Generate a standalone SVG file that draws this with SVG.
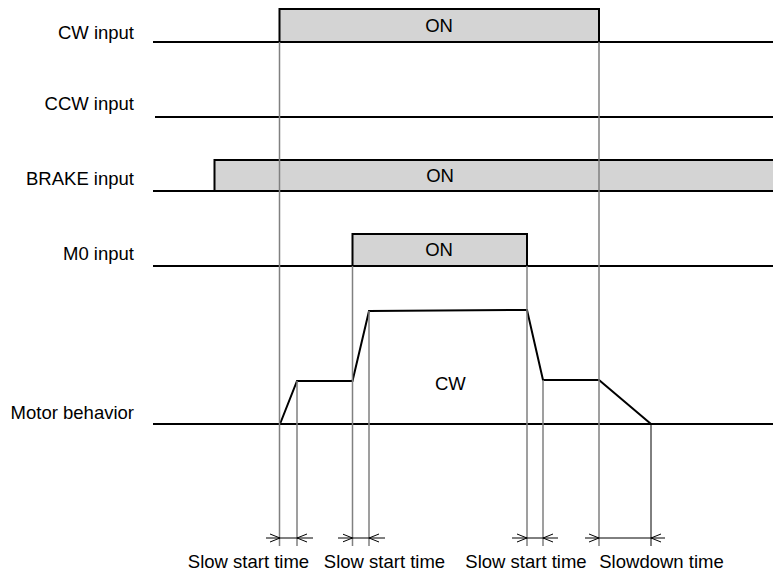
<svg xmlns="http://www.w3.org/2000/svg" width="773" height="576" viewBox="0 0 773 576">
<style>
text{font-family:"Liberation Sans",Arial,sans-serif;font-size:18.5px;fill:#000}
.lbl{text-anchor:end}
.mid{text-anchor:middle}
.sig{fill:none;stroke:#000;stroke-width:2}
.box{fill:#d4d4d4;stroke:#000;stroke-width:2}
.guide{stroke:#808080;stroke-width:1.5;fill:none}
.dim{stroke:#000;stroke-width:1;fill:none}
</style>
<defs>
<marker id="ah" viewBox="0 0 10 10" refX="10" refY="5" markerWidth="10" markerHeight="10" markerUnits="userSpaceOnUse" orient="auto">
<path d="M0,1 L10,5 L0,9" fill="none" stroke="#000" stroke-width="1"/>
</marker>
</defs>
<rect width="773" height="576" fill="#fff"/>
<g id="cw-input">
<text class="lbl" x="134" y="39">CW input</text>
<rect class="box" x="279.5" y="9" width="319.5" height="33"/>
<path class="sig" d="M153,42 H773"/>
<text class="mid" x="439" y="32">ON</text>
</g>
<g id="ccw-input">
<text class="lbl" x="134" y="110">CCW input</text>
<path class="sig" d="M155,117 H773"/>
</g>
<g id="brake-input">
<text class="lbl" x="134" y="185">BRAKE input</text>
<rect class="box" x="214.5" y="160" width="560" height="31"/>
<path class="sig" d="M153,191 H773"/>
<text class="mid" x="440" y="182">ON</text>
</g>
<g id="m0-input">
<text class="lbl" x="134" y="260">M0 input</text>
<rect class="box" x="352.5" y="234" width="174.5" height="32"/>
<path class="sig" d="M153,266 H773"/>
<text class="mid" x="439" y="256">ON</text>
</g>
<g id="motor-behavior">
<text class="lbl" x="134" y="419">Motor behavior</text>
<path class="sig" d="M153,424 H773"/>
<path class="sig" d="M280,424 L297,381 L352.5,381 L369,311 L527,310 L543,380 L599,380 L651,424"/>
<text x="435" y="390">CW</text>
</g>
<g id="connectors">
<path class="guide" d="M279.5,42 V546 M599,42 V546 M352.5,266 V546 M527,266 V546 M297,381 V546 M369,311 V546 M543,380 V546"/>
<path class="dim" d="M651,424 V546"/>
<path class="dim" d="M280,538 H297 M352.5,538 H369 M527,538 H543 M599,538 H651"/>
<path class="dim" marker-end="url(#ah)" d="M266,538 H280"/>
<path class="dim" marker-end="url(#ah)" d="M313,538 H297"/>
<path class="dim" marker-end="url(#ah)" d="M338,538 H352.5"/>
<path class="dim" marker-end="url(#ah)" d="M385,538 H369"/>
<path class="dim" marker-end="url(#ah)" d="M512,538 H527"/>
<path class="dim" marker-end="url(#ah)" d="M558,538 H543"/>
<path class="dim" marker-end="url(#ah)" d="M585,538 H599"/>
<path class="dim" marker-end="url(#ah)" d="M665,538 H651"/>
</g>
<g id="time-labels">
<text class="mid" x="248.5" y="568">Slow start time</text>
<text class="mid" x="384.5" y="568">Slow start time</text>
<text class="mid" x="526" y="568">Slow start time</text>
<text class="mid" x="661.5" y="568">Slowdown time</text>
</g>
</svg>
